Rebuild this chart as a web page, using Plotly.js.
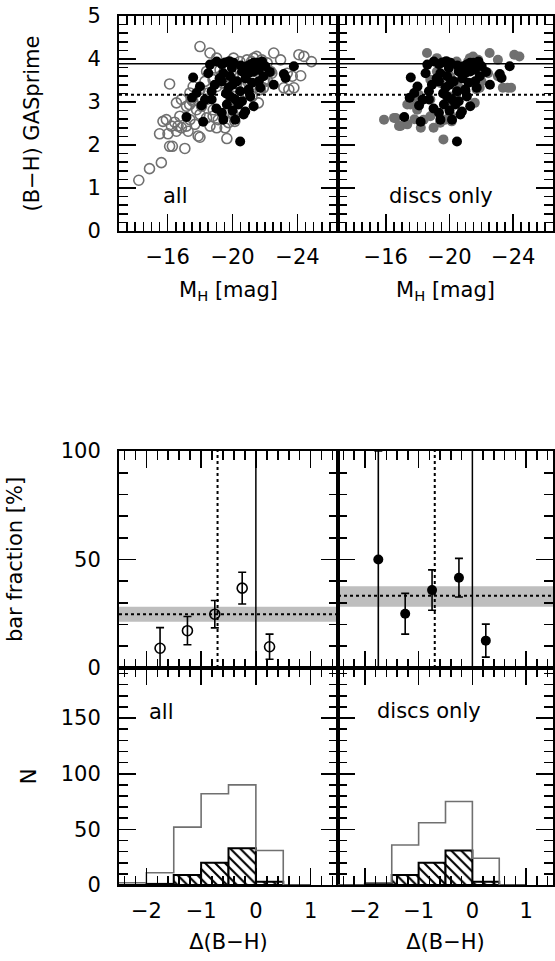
<!DOCTYPE html>
<html>
<head>
<meta charset="utf-8">
<script src="https://cdn.plot.ly/plotly-3.0.1.min.js"></script>
<style>html,body{margin:0;padding:0;background:#fff;}#chart{width:555px;height:961px;}</style>
</head>
<body>
<div id="chart"></div>
<script>
// ---------- DATA ----------
// Top panels: (B-H) colour vs absolute H magnitude
const allMag = [-14.22,-14.88,-15.61,-16.12,-15.50,-16.02,-16.12,-16.29,-17.06,-15.92,-16.43,-16.64,-16.85,-17.16,-17.26,-17.88,-16.54,-16.85,-17.16,-17.37,-17.47,-17.78,-17.99,-17.99,-18.61,-19.02,-19.65,-19.02,-19.54,-19.75,-18.61,-18.40,-18.81,-22.54,-22.96,-24.09,-24.40,-24.86,-24.20,-23.68,-23.16,-23.47,-23.78,-22.34,-22.13,-21.30,-20.89,-20.06,-21.71,-21.20,-21.92,-19.75,-19.96,-20.27,-18.40,-18.09,-17.57,-17.99,-18.50,-19.02,-20.47,-20.27,-20.99,-21.30,-21.71,-19.23,-18.92,-18.40,-18.30,-19.12,-16.75,-16.23,-17.37,-17.68,-16.54,-15.71,-17.99,-22.13,-23.37,-22.13,-18.80,-19.83,-20.04,-20.45,-20.55,-20.04,-19.42,-18.80,-21.48,-21.17,-20.86,-22.01,-21.70,-20.14,-20.04,-21.59,-21.90,-22.42,-20.45,-21.80,-17.35,-17.55];
const allCol = [1.18,1.45,1.59,3.42,2.26,2.26,1.97,1.97,1.92,2.59,2.53,2.44,2.40,2.44,2.32,2.21,2.98,3.06,2.90,3.21,3.06,2.82,2.71,4.29,4.14,4.02,2.15,2.40,2.40,2.52,2.44,2.63,2.82,4.14,3.98,4.10,4.06,3.94,3.61,3.60,3.33,3.29,3.33,3.71,3.91,4.02,3.98,4.02,3.29,3.13,3.48,2.78,3.06,2.82,3.06,2.90,3.36,3.29,3.21,3.36,3.60,3.44,3.44,3.71,3.83,3.75,3.79,3.71,3.48,2.59,2.67,2.44,2.59,2.48,2.32,2.55,2.18,3.52,3.67,3.67,2.67,2.98,3.13,3.06,3.36,3.60,3.44,3.52,4.06,3.94,3.79,3.48,3.29,2.55,2.71,2.98,3.33,3.67,3.94,3.98,2.94,3.02];
const discMag = [-15.89,-16.62,-16.93,-17.35,-18.59,-19.21,-19.62,-19.00,-19.42,-19.73,-22.52,-23.04,-24.07,-24.39,-23.35,-23.87,-23.04,-21.48,-21.17,-20.86,-22.01,-21.70,-17.55,-17.66,-17.97,-18.80,-18.38,-18.07,-18.80,-19.83,-20.04,-20.45,-20.55,-20.04,-19.42,-19.21,-18.80,-16.52,-16.83,-17.35,-20.14,-20.04,-21.59,-21.90,-22.42,-23.66,-20.45,-21.28,-21.80,-17.80,-18.20];
const discCol = [2.59,2.63,2.44,2.48,4.14,4.02,2.13,2.40,2.52,2.59,4.14,3.98,4.10,4.06,3.33,3.33,3.60,4.06,3.94,3.79,3.48,3.29,2.94,3.06,2.82,2.67,2.59,3.17,3.06,2.98,3.13,3.06,3.36,3.60,3.44,3.71,3.52,2.63,2.44,2.94,2.55,2.71,2.98,3.33,3.67,3.33,3.94,4.02,3.98,2.60,2.40];
const barMag = [-17.57,-18.61,-18.50,-17.99,-17.78,-18.71,-18.71,-18.09,-17.16,-18.19,-19.34,-19.54,-20.06,-19.43,-19.34,-19.85,-19.75,-19.85,-20.16,-20.27,-20.47,-20.58,-20.89,-21.09,-21.30,-21.51,-21.82,-20.99,-21.30,-21.61,-20.99,-21.61,-21.71,-21.09,-20.58,-20.37,-21.30,-20.78,-20.68,-19.34,-19.43,-20.16,-20.47,-23.78,-23.16,-23.27,-22.54,-19.65,-19.02,-19.96,-22.02,-19.20,-18.90,-19.60,-20.00,-20.80,-21.20,-20.50,-21.90,-18.30,-19.00,-20.00,-21.00,-17.50,-22.30,-19.80];
const barCol = [3.57,3.87,3.67,3.36,3.21,3.25,3.06,2.92,2.65,2.54,3.88,3.92,3.91,3.67,3.48,3.60,3.33,3.13,3.06,3.48,3.25,3.71,3.83,3.87,3.91,3.91,3.94,3.67,3.71,3.75,3.29,3.48,3.33,3.13,3.02,2.94,2.90,2.78,2.71,2.75,2.59,2.59,2.08,3.83,3.65,3.56,3.40,2.94,3.94,3.79,3.83,3.55,3.40,3.20,3.40,3.55,3.45,3.85,3.60,3.05,2.85,2.80,3.25,3.10,3.70,3.95];
const colourLevels = [3.89, 3.17];   // solid, dotted

// Middle panels: bar fraction vs Delta(B-H)
const fracX = [-1.75, -1.25, -0.75, -0.25, 0.25];
const fracAll = [9.1, 17.2, 24.8, 36.8, 9.8];
const errAll = [9.5, 6.5, 6.3, 7.3, 5.8];
const fracDisc = [50.0, 25.0, 35.9, 41.6, 12.6];
const errDisc = [50.0, 9.4, 9.3, 8.9, 7.6];
const meanAll = [24.8, 21.3, 28.2];    // mean, lower, upper
const meanDisc = [33.3, 28.2, 37.7];
const vLines = [0, -0.70];             // solid, dotted

// Bottom panels: histograms
const binEdges = [-2.5, -2.0, -1.5, -1.0, -0.5, 0.0, 0.5, 1.0];
const nAll = [2, 11, 52, 82, 90, 31, 0];
const nAllBarred = [0, 1, 9, 20, 33, 3, 0];
const nDisc = [0, 2, 36, 56, 75, 24, 0];
const nDiscBarred = [0, 1, 9, 20, 31, 3, 0];

// ---------- BUILD ----------
const FONT = 'DejaVu Sans';
const GRAY = 'rgb(112,112,112)';
const binCenters = binEdges.slice(0, -1).map((e, i) => (e + binEdges[i + 1]) / 2);
const binWidths = binEdges.slice(0, -1).map((e, i) => binEdges[i + 1] - e);
const stepY = arr => arr.concat([arr[arr.length - 1]]);
const hatch = {color:'white', line:{color:'black', width:2}, pattern:{shape:'\\', fgcolor:'black', bgcolor:'white', size:7, solidity:0.3}};

const traces = [
  {type:'scatter', mode:'markers', x:allMag, y:allCol, xaxis:'x', yaxis:'y', marker:{symbol:'circle-open', size:10, color:GRAY, line:{width:1.6, color:GRAY}}},
  {type:'scatter', mode:'markers', x:barMag, y:barCol, xaxis:'x', yaxis:'y', marker:{symbol:'circle', size:10, color:'black'}},
  {type:'scatter', mode:'markers', x:discMag, y:discCol, xaxis:'x2', yaxis:'y2', marker:{symbol:'circle', size:10, color:GRAY}},
  {type:'scatter', mode:'markers', x:barMag, y:barCol, xaxis:'x2', yaxis:'y2', marker:{symbol:'circle', size:10, color:'black'}},
  {type:'scatter', mode:'markers', x:fracX, y:fracAll, xaxis:'x3', yaxis:'y3', error_y:{type:'data', array:errAll, color:'black', thickness:1.6, width:4}, marker:{symbol:'circle-open', size:10, color:'black', line:{width:1.6, color:'black'}}},
  {type:'scatter', mode:'markers', x:fracX, y:fracDisc, xaxis:'x4', yaxis:'y4', error_y:{type:'data', array:errDisc, color:'black', thickness:1.6, width:4}, marker:{symbol:'circle', size:10, color:'black'}},
  {type:'bar', x:binCenters, y:nAllBarred, width:binWidths, xaxis:'x5', yaxis:'y5', marker:hatch},
  {type:'scatter', mode:'lines', x:binEdges, y:stepY(nAll), xaxis:'x5', yaxis:'y5', line:{shape:'hv', color:GRAY, width:1.6}},
  {type:'bar', x:binCenters, y:nDiscBarred, width:binWidths, xaxis:'x6', yaxis:'y6', marker:hatch},
  {type:'scatter', mode:'lines', x:binEdges, y:stepY(nDisc), xaxis:'x6', yaxis:'y6', line:{shape:'hv', color:GRAY, width:1.6}}
];

const W = 555, H = 961;
const xL = [119 / W, 338 / W], xR = [338 / W, 553 / W];
const yTop = [(H - 231) / H, (H - 16) / H];
const yMid = [(H - 668) / H, (H - 451) / H];
const yBot = [(H - 885) / H, (H - 668) / H];
const TF = {family:FONT, size:21, color:'black'};
function ax(extra) {
  return Object.assign({
    showline:true, linecolor:'black', linewidth:2, mirror:'allticks',
    ticks:'inside', ticklen:17, tickwidth:1.6, tickcolor:'black',
    showgrid:false, zeroline:false, fixedrange:true, tickfont:TF
  }, extra);
}
function minor(d) { return {ticks:'inside', ticklen:9, tickwidth:1.6, tickcolor:'black', dtick:d, showgrid:false}; }

const layout = {
  width:W, height:H, margin:{l:0, r:0, t:0, b:0}, showlegend:false, barmode:'overlay',
  paper_bgcolor:'white', plot_bgcolor:'rgba(0,0,0,0)',
  xaxis: ax({domain:xL, anchor:'y', range:[-13, -26.5], tick0:-16, dtick:4, minor:minor(0.5), ticklabelstandoff:6, title:{text:'M<sub>H</sub> [mag]', standoff:14, font:TF}}),
  yaxis: ax({domain:yTop, anchor:'x', range:[0, 5], dtick:1, minor:minor(0.2), ticklabelstandoff:12, title:{text:'(B−H) GASprime', standoff:42, font:TF}}),
  xaxis2: ax({domain:xR, anchor:'y2', range:[-13, -26.5], tick0:-16, dtick:4, minor:minor(0.5), ticklabelstandoff:6, title:{text:'M<sub>H</sub> [mag]', standoff:14, font:TF}}),
  yaxis2: ax({domain:yTop, anchor:'x2', range:[0, 5], dtick:1, minor:minor(0.2), showticklabels:false}),
  xaxis3: ax({domain:xL, anchor:'y3', range:[-2.5, 1.5], dtick:1, minor:minor(0.2), showticklabels:false}),
  yaxis3: ax({domain:yMid, anchor:'x3', range:[0, 100], dtick:50, minor:minor(10), ticklabelstandoff:12, title:{text:'bar fraction [%]', standoff:32, font:TF}}),
  xaxis4: ax({domain:xR, anchor:'y4', range:[-2.5, 1.5], dtick:1, minor:minor(0.2), showticklabels:false}),
  yaxis4: ax({domain:yMid, anchor:'x4', range:[0, 100], dtick:50, minor:minor(10), showticklabels:false}),
  xaxis5: ax({domain:xL, anchor:'y5', range:[-2.5, 1.5], dtick:1, minor:minor(0.2), ticklabelstandoff:6, title:{text:'Δ(B−H)', standoff:12, font:TF}}),
  yaxis5: ax({domain:yBot, anchor:'x5', range:[0, 195], dtick:50, minor:minor(10), ticklabelstandoff:12, title:{text:'N', standoff:18, font:TF}}),
  xaxis6: ax({domain:xR, anchor:'y6', range:[-2.5, 1.5], dtick:1, minor:minor(0.2), ticklabelstandoff:6, title:{text:'Δ(B−H)', standoff:12, font:TF}}),
  yaxis6: ax({domain:yBot, anchor:'x6', range:[0, 195], dtick:50, minor:minor(10), showticklabels:false}),
  shapes: [], annotations: []
};
['', '2'].forEach(s => {
  layout.shapes.push({type:'line', xref:'x' + s + ' domain', yref:'y' + s, x0:0, x1:1, y0:colourLevels[0], y1:colourLevels[0], line:{color:'black', width:1.5}});
  layout.shapes.push({type:'line', xref:'x' + s + ' domain', yref:'y' + s, x0:0, x1:1, y0:colourLevels[1], y1:colourLevels[1], line:{color:'black', width:2, dash:'dot'}});
});
[['3', meanAll], ['4', meanDisc]].forEach(([s, m]) => {
  layout.shapes.push({type:'rect', xref:'x' + s + ' domain', yref:'y' + s, x0:0, x1:1, y0:m[1], y1:m[2], fillcolor:'#bebebe', line:{width:0}, layer:'below'});
  layout.shapes.push({type:'line', xref:'x' + s + ' domain', yref:'y' + s, x0:0, x1:1, y0:m[0], y1:m[0], line:{color:'black', width:2, dash:'dot'}});
  layout.shapes.push({type:'line', xref:'x' + s, yref:'y' + s + ' domain', x0:vLines[0], x1:vLines[0], y0:0, y1:1, line:{color:'black', width:1.5}});
  layout.shapes.push({type:'line', xref:'x' + s, yref:'y' + s + ' domain', x0:vLines[1], x1:vLines[1], y0:0, y1:1, line:{color:'black', width:2, dash:'dot'}});
});
const lab = (s, text, x, y) => ({xref:'x' + s + ' domain', yref:'y' + s + ' domain', x:x, y:y, text:text, showarrow:false, xanchor:'center', yanchor:'middle', font:TF});
layout.annotations.push(lab('', 'all', 0.256, 0.163));
layout.annotations.push(lab('2', 'discs only', 0.477, 0.163));
layout.annotations.push(lab('5', 'all', 0.194, 0.797));
layout.annotations.push(lab('6', 'discs only', 0.423, 0.80));

Plotly.newPlot('chart', traces, layout, {staticPlot:true, displayModeBar:false}).then(gd => {
  // bring Plotly's own tick marks to the top of the drawing so nothing hides them
  const svgs = document.querySelectorAll('#chart svg.main-svg');
  if (!svgs.length) return;
  const top = svgs[svgs.length - 1];
  const g = document.createElementNS('http://www.w3.org/2000/svg', 'g');
  g.setAttribute('class', 'tick-overlay');
  document.querySelectorAll('#chart path').forEach(p => {
    const c = p.getAttribute('class') || '';
    if (/(^|\s)[xy]\d*tick(\s|$)/.test(c)) {
      const cl = p.cloneNode(true);
      cl.style.stroke = 'black';
      cl.style.strokeOpacity = '1';
      cl.style.strokeWidth = '1.6px';
      cl.style.fill = 'none';
      g.appendChild(cl);
    }
  });
  top.appendChild(g);
});
</script>
</body>
</html>
